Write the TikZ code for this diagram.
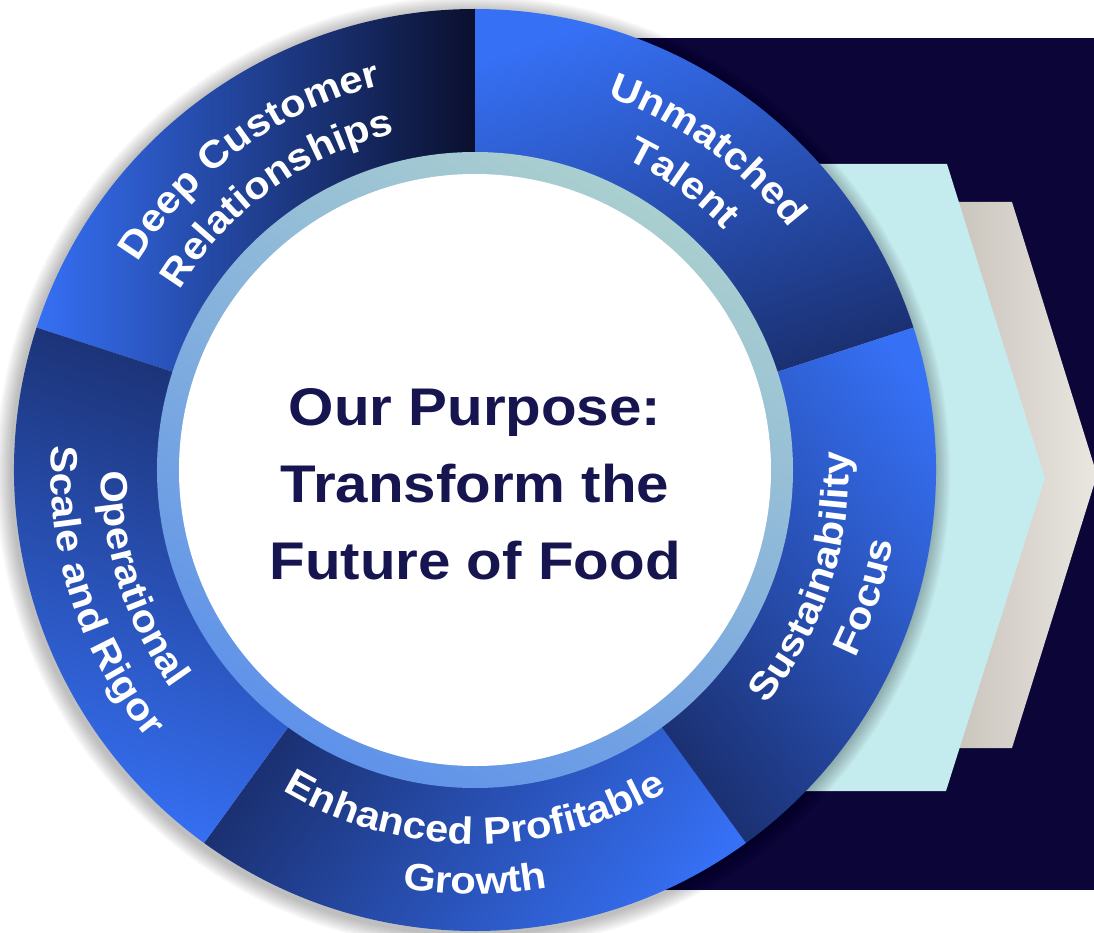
\documentclass[tikz,border=0pt]{standalone}
\usepackage{fontspec}
\setmainfont{Liberation Sans}[FakeStretch=1.1]
\usepackage{tikz}
\usetikzlibrary{decorations.text}
\definecolor{navybg}{HTML}{0B0538}
\definecolor{aquachev}{HTML}{C4ECEE}
\definecolor{sandlo}{HTML}{C9C4BC}
\definecolor{sandhi}{HTML}{EAE7E1}
\definecolor{segbright}{HTML}{3670F5}
\definecolor{segdark}{HTML}{1B3173}
\definecolor{segblack}{HTML}{0A0F2D}
\definecolor{ringtop}{HTML}{AACFCF}
\definecolor{ringlow}{HTML}{5F92EA}
\definecolor{purposeink}{HTML}{16154F}
\newcommand\segfont{\bfseries\fontsize{38}{46}\selectfont}
\tikzstyle{segment} = [top color=segbright, bottom color=segdark]
\tikzstyle{purpose} = [align=center, text=purposeink, font=\bfseries\fontsize{53}{77}\selectfont]
\tikzset{seglabel/.style={decorate, decoration={text along path, text={|\segfont|#1}, text align=center, text color=white}}}

\begin{document}
\begin{tikzpicture}[x=1pt, y=1pt]
            \useasboundingbox (-475,-462) rectangle (619,470);
            % backdrop and arrows
            \fill[navybg] (0,-420) rectangle (619,432);
            \shade[left color=sandlo, right color=sandhi] (480,268) -- (537,268) -- (622,-5) -- (537,-278) -- (480,-278) -- cycle;
            \fill[aquachev] (300,306) -- (472,306) -- (570,-8) -- (471,-321) -- (300,-321) -- cycle;
            % soft shadow of the wheel
            \foreach \k in {1,...,8} \fill[black, opacity=0.035] (-2,-3) circle ({461+2*\k});
            
            % the five segments
            \shade[segment, bottom color=segblack, shading angle=90] (90:461) arc[start angle=90, end angle=162, radius=461] -- (162:300) arc[start angle=162, end angle=90, radius=300] -- cycle;
            \shade[segment, shading angle=18] (18:461) arc[start angle=18, end angle=90, radius=461] -- (90:300) arc[start angle=90, end angle=18, radius=300] -- cycle;
            \shade[segment, shading angle=-54] (-54:461) arc[start angle=-54, end angle=18, radius=461] -- (18:300) arc[start angle=18, end angle=-54, radius=300] -- cycle;
            \shade[segment, shading angle=-126] (-126:461) arc[start angle=-126, end angle=-54, radius=461] -- (-54:300) arc[start angle=-54, end angle=-126, radius=300] -- cycle;
            \shade[segment, shading angle=162] (162:461) arc[start angle=162, end angle=234, radius=461] -- (234:300) arc[start angle=234, end angle=162, radius=300] -- cycle;
            
            % inner ring and disc
            \shade[top color=ringtop, bottom color=ringlow, shading angle=-30] (0,0) circle (318);
            \fill[white] (0,0) circle (296);
            \node[purpose] (purpose) at (0,-14) {Our Purpose:\\Transform the\\Future of Food};
            
            % labels
            \path[seglabel=Deep Customer] (162:396) arc[start angle=162, end angle=90, radius=396];
            \path[seglabel=Relationships] (162:346) arc[start angle=162, end angle=90, radius=346];
            \path[seglabel=Unmatched] (90:396) arc[start angle=90, end angle=18, radius=396];
            \path[seglabel=Talent] (90:346) arc[start angle=90, end angle=18, radius=346];
            \path[seglabel=Sustainability] (-54:374) arc[start angle=-54, end angle=18, radius=374];
            \path[seglabel=Focus] (-54:424) arc[start angle=-54, end angle=18, radius=424];
            \path[seglabel=Enhanced Profitable] (-126:374) arc[start angle=-126, end angle=-54, radius=374];
            \path[seglabel=Growth] (-126:424) arc[start angle=-126, end angle=-54, radius=424];
            \path[seglabel=Operational] (162:374) arc[start angle=162, end angle=234, radius=374];
            \path[seglabel=Scale and Rigor] (162:424) arc[start angle=162, end angle=234, radius=424];
\end{tikzpicture}
\end{document}
